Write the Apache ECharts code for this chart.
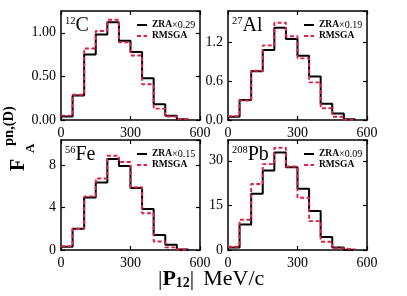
<!DOCTYPE html>
<html>
<head>
<meta charset="utf-8">
<script src="https://cdn.jsdelivr.net/npm/echarts/dist/echarts.min.js"></script>
<style>html,body{margin:0;padding:0;background:#fff}#c{width:407px;height:296px}</style>
</head>
<body>
<div id="c"></div>
<script>
// ---- data ----
const binEdges = [0, 50, 100, 150, 200, 250, 300, 350, 400, 450, 500, 550];
const xTicks = [0, 300, 600];

const C_ZRA   = [0.04, 0.28, 0.75, 0.98, 1.12, 0.91, 0.78, 0.48, 0.18, 0.05, 0.01];
const C_RMSGA = [0.05, 0.29, 0.82, 1.02, 1.15, 0.89, 0.74, 0.41, 0.13, 0.04, 0.01];
const Al_ZRA   = [0.05, 0.31, 0.75, 1.08, 1.42, 1.25, 0.99, 0.67, 0.25, 0.10, 0.01];
const Al_RMSGA = [0.06, 0.30, 0.76, 1.15, 1.50, 1.29, 0.95, 0.58, 0.18, 0.05, 0.005];
const Fe_ZRA   = [0.30, 2.00, 4.93, 6.36, 8.56, 7.90, 5.84, 3.85, 1.40, 0.49, 0.05];
const Fe_RMSGA = [0.35, 2.00, 5.05, 6.73, 8.87, 8.28, 5.90, 3.46, 0.80, 0.25, 0.05];
const Pb_ZRA   = [0.8, 8.6, 18.9, 26.7, 32.8, 27.8, 20.6, 13.1, 4.4, 0.8, 0.1];
const Pb_RMSGA = [1.1, 10.2, 22.2, 28.9, 34.4, 28.1, 17.6, 9.7, 2.8, 0.6, 0.1];

const nuclei = [['12', 'C'], ['27', 'Al'], ['56', 'Fe'], ['208', 'Pb']];
const zraNames = ['ZRA×0.29', 'ZRA×0.19', 'ZRA×0.15', 'ZRA×0.09'];
const rmsgaName = 'RMSGA';
const yTickLabelsC  = ['0.00', '0.50', '1.00'];
const yTickLabelsAl = ['0.0', '0.6', '1.2'];
const yTickLabelsFe = ['0', '4', '8'];
const yTickLabelsPb = ['0', '15', '30'];
const yIntervals = [0.5, 0.6, 4, 15];
const yMax = [1.25, 1.68, 10.35, 37];

// ---- layout ----
const FONT = 'Liberation Serif';
const grids = [
  {left: 61, top: 11, width: 139, height: 109},
  {left: 228, top: 11, width: 139, height: 109},
  {left: 61, top: 140, width: 139, height: 110},
  {left: 228, top: 140, width: 139, height: 110}
];
const zraSets = [C_ZRA, Al_ZRA, Fe_ZRA, Pb_ZRA];
const rmsgaSets = [C_RMSGA, Al_RMSGA, Fe_RMSGA, Pb_RMSGA];
const yLabelSets = [yTickLabelsC, yTickLabelsAl, yTickLabelsFe, yTickLabelsPb];

function stepData(vals) {
  const d = vals.map((v, i) => [binEdges[i], v]);
  d.push([binEdges[vals.length], vals[vals.length - 1]]);
  return d;
}

const axisLine = {show: true, onZero: false, lineStyle: {color: '#000', width: 1.5}};
const axisTick = {show: true, inside: true, length: 4, lineStyle: {color: '#000', width: 1.2}};

const xAxis = [], yAxis = [], series = [], legend = [], graphic = [];
grids.forEach((g, i) => {
  const iv = yIntervals[i], labels = yLabelSets[i];
  xAxis.push({type: 'value', gridIndex: i, min: xTicks[0], max: xTicks[2], interval: xTicks[1] - xTicks[0],
    axisLine, axisTick, splitLine: {show: false},
    axisLabel: {show: true, margin: 6, color: '#000', fontFamily: FONT, fontSize: 14,
      formatter: v => String(v)}});
  xAxis.push({type: 'value', gridIndex: i, position: 'top', min: xTicks[0], max: xTicks[2], interval: xTicks[1] - xTicks[0],
    axisLine, axisTick, splitLine: {show: false}, axisLabel: {show: false}});
  const fmt = v => {
    const k = Math.round(v / iv);
    return (Math.abs(v - k * iv) < 1e-9 && labels[k] !== undefined) ? labels[k] : '';
  };
  yAxis.push({type: 'value', gridIndex: i, min: 0, max: yMax[i], interval: iv,
    axisLine, axisTick, splitLine: {show: false},
    axisLabel: {show: true, margin: 5, color: '#000', fontFamily: FONT, fontSize: 14, formatter: fmt, showMaxLabel: false}});
  yAxis.push({type: 'value', gridIndex: i, position: 'right', min: 0, max: yMax[i], interval: iv,
    axisLine, axisTick, splitLine: {show: false}, axisLabel: {show: false}});

  series.push({type: 'line', name: zraNames[i], xAxisIndex: 2 * i, yAxisIndex: 2 * i,
    data: stepData(zraSets[i]), step: 'end', symbol: 'none', z: 2,
    lineStyle: {color: '#000', width: 2}, itemStyle: {color: '#000'}});
  series.push({type: 'line', name: rmsgaName, xAxisIndex: 2 * i, yAxisIndex: 2 * i,
    data: stepData(rmsgaSets[i]), step: 'end', symbol: 'none', z: 3,
    lineStyle: {color: '#e0204a', width: 1.9, type: [4, 2.5]}, itemStyle: {color: '#e0204a'}});

  legend.push({orient: 'vertical', left: g.left + 70, top: g.top + 4,
    data: [zraNames[i], rmsgaName], itemWidth: 10, itemHeight: 8, itemGap: 1,
    selectedMode: false,
    itemStyle: {opacity: 0},
    lineStyle: {width: 2},
    textStyle: {color: '#000', fontFamily: FONT, lineHeight: 9,
      rich: {b: {fontWeight: 'bold', fontSize: 9.5, fontFamily: FONT, color: '#000', lineHeight: 9},
             n: {fontSize: 10, fontFamily: FONT, color: '#000', lineHeight: 9}}},
    formatter: name => {
      const p = name.split('×');
      return p.length > 1 ? '{b|' + p[0] + '}{n|×' + p[1] + '}' : '{b|' + name + '}';
    }});

  graphic.push({type: 'text', left: g.left + 4, top: g.top + 5, silent: true,
    style: {text: '{s|' + nuclei[i][0] + '}{m|' + nuclei[i][1] + '}', fill: '#000',
      rich: {s: {fontSize: 10.5, fontFamily: FONT, verticalAlign: 'top', fill: '#000'},
             m: {fontSize: 20, fontFamily: FONT, fill: '#000'}}}});
});

// axis titles
graphic.push({type: 'text', left: 158, top: 268, silent: true,
  style: {text: '{n||}{p|P}{s|12}{n||}{g| }{n|MeV/c}', fill: '#000',
    rich: {n: {fontSize: 22, fontFamily: FONT, fill: '#000'},
           g: {fontSize: 22, fontFamily: FONT, width: 9},
           p: {fontSize: 22, fontFamily: FONT, fontWeight: 'bold', fill: '#000'},
           s: {fontSize: 14, fontFamily: FONT, fontWeight: 'bold', verticalAlign: 'bottom', fill: '#000'}}}});
// rotated y title: F with subscript A and superscript pn,(D)
const ySub = {textAlign: 'left', textVerticalAlign: 'middle', align: 'left', verticalAlign: 'middle', fill: '#000'};
graphic.push({type: 'text', x: 19, y: 171, rotation: Math.PI / 2, silent: true,
  style: Object.assign({text: 'F', font: 'bold 20px "Liberation Serif"'}, ySub)});
graphic.push({type: 'text', x: 31, y: 153, rotation: Math.PI / 2, silent: true,
  style: Object.assign({text: 'A', font: 'bold 13px "Liberation Serif"'}, ySub)});
graphic.push({type: 'text', x: 9, y: 146, rotation: Math.PI / 2, silent: true,
  style: Object.assign({text: 'pn,(D)', font: 'bold 14.5px "Liberation Serif"'}, ySub)});

const chart = echarts.init(document.getElementById('c'), null, {renderer: 'canvas'});
chart.setOption({
  animation: false,
  backgroundColor: '#fff',
  grid: grids,
  xAxis, yAxis, series, legend, graphic
});
</script>
</body>
</html>
